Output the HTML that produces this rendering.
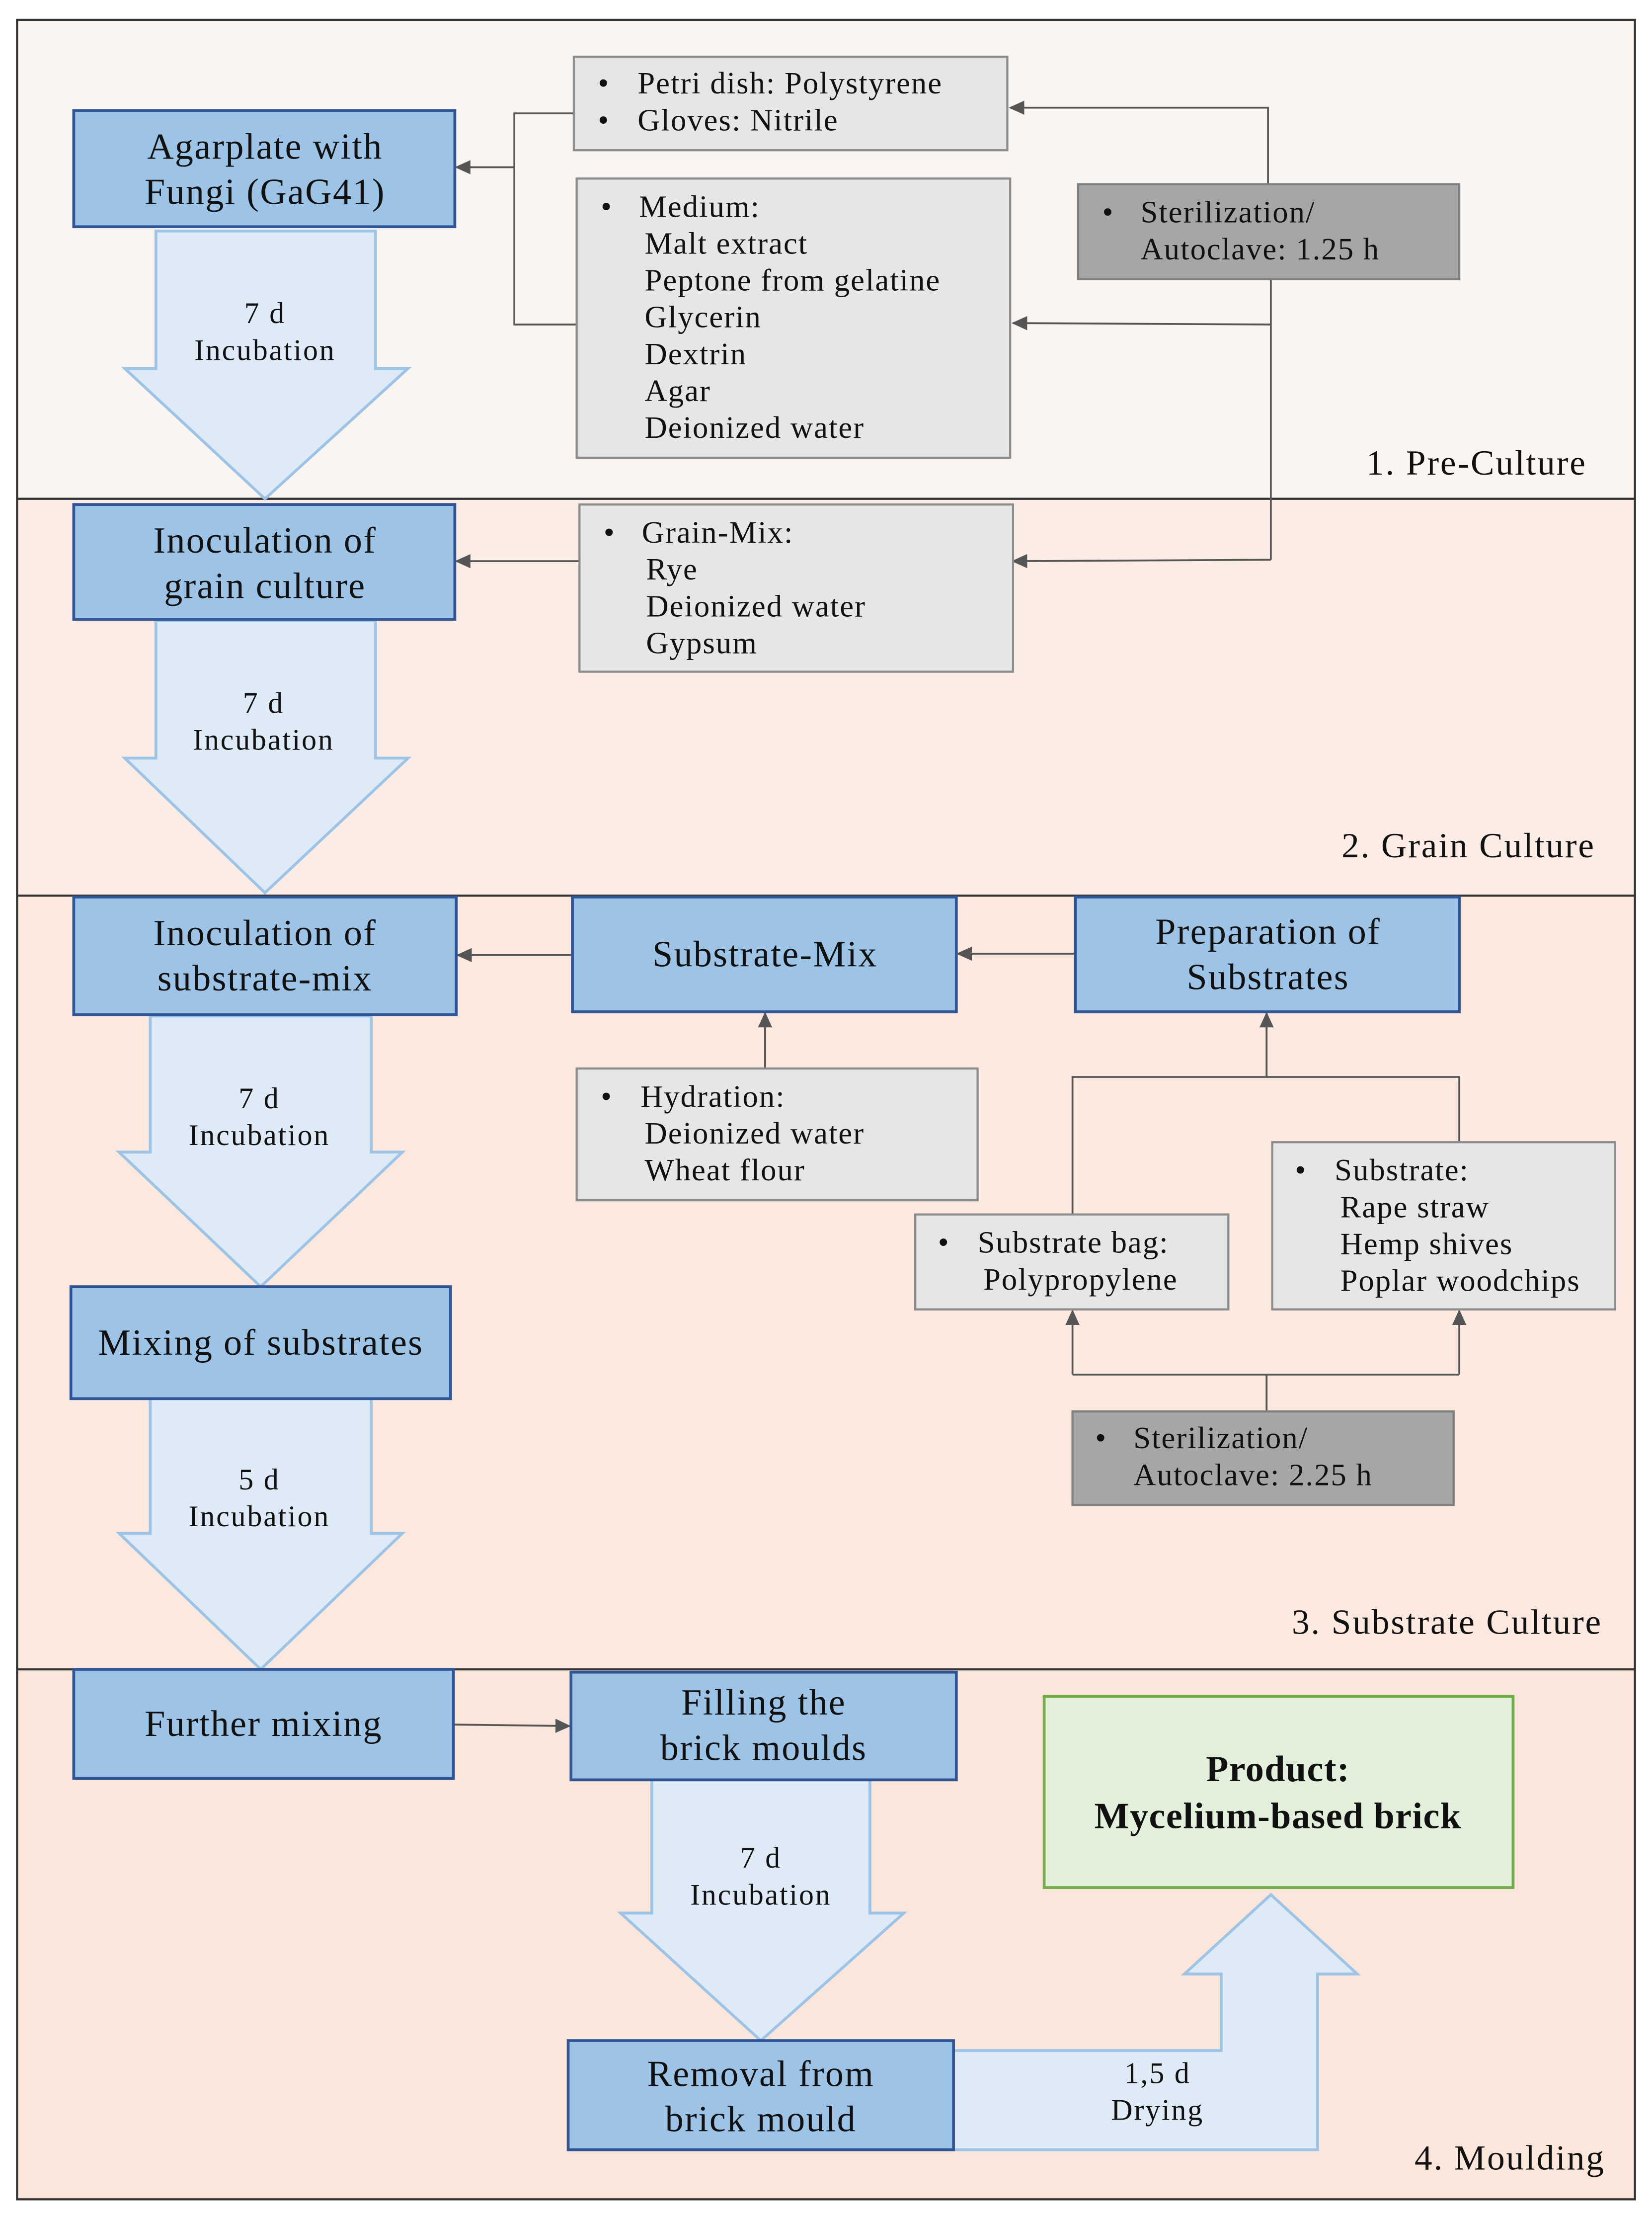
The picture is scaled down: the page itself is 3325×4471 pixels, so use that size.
<!DOCTYPE html>
<html><head><meta charset="utf-8">
<style>
html,body{margin:0;padding:0;background:#fff;}
svg{display:block;}
text{font-family:"Liberation Serif",serif;fill:#111;}
</style></head>
<body>
<svg width="3325" height="4471" viewBox="0 0 1166 1568" xmlns="http://www.w3.org/2000/svg">
<defs>
<marker id="a" markerWidth="11" markerHeight="10" refX="10" refY="5" orient="auto" markerUnits="userSpaceOnUse">
<path d="M0,0 L11,5 L0,10 z" fill="#555"/></marker>
</defs>
<rect x="0" y="0" width="1166" height="1568" fill="#fff"/>
<rect x="12" y="14" width="1142" height="338" fill="#fbf5f2"/>
<rect x="12" y="352" width="1142" height="280" fill="#fbede6"/>
<rect x="12" y="632" width="1142" height="546" fill="#fbe9df"/>
<rect x="12" y="1178" width="1142" height="374" fill="#fbe6dc"/>
<g stroke="#333" stroke-width="1.5" fill="none">
<rect x="12" y="14" width="1142" height="1538"/>
<line x1="12" y1="352" x2="1154" y2="352"/>
<line x1="12" y1="632" x2="1154" y2="632"/>
<line x1="12" y1="1178" x2="1154" y2="1178"/>
</g>
<g font-size="25" letter-spacing="1">
<text x="1120" y="335" text-anchor="end">1. Pre-Culture</text>
<text x="1126" y="605" text-anchor="end">2. Grain Culture</text>
<text x="1131" y="1153" text-anchor="end">3. Substrate Culture</text>
<text x="1133" y="1531" text-anchor="end">4. Moulding</text>
</g>
<g fill="#deebf7" stroke="#9dc3e6" stroke-width="2">
<polygon points="110,163 265,163 265,260 288,260 187,352 88,260 110,260"/>
<polygon points="110,438 265,438 265,535 288,535 187,630 88,535 110,535"/>
<polygon points="106,717 262,717 262,813 284,813 184,908 84,813 106,813"/>
<polygon points="106,987 262,987 262,1082 284,1082 184,1178 84,1082 106,1082"/>
<polygon points="460,1256 614,1256 614,1350 638,1350 537,1440 438,1350 460,1350"/>
<polygon points="673,1447 862,1447 862,1393 836,1393 897,1337 958,1393 930,1393 930,1517 673,1517"/>
</g>
<g font-size="21" text-anchor="middle" letter-spacing="1">
<text x="187" y="228">7 d</text><text x="187" y="254">Incubation</text>
<text x="186" y="503">7 d</text><text x="186" y="529">Incubation</text>
<text x="183" y="782">7 d</text><text x="183" y="808">Incubation</text>
<text x="183" y="1051">5 d</text><text x="183" y="1077">Incubation</text>
<text x="537" y="1318">7 d</text><text x="537" y="1344">Incubation</text>
<text x="817" y="1470">1,5 d</text><text x="817" y="1496">Drying</text>
</g>
<g stroke="#555" stroke-width="1.3" fill="none">
<polyline points="895,130 895,76 713,76" marker-end="url(#a)"/>
<line x1="897" y1="197" x2="897" y2="395"/>
<polyline points="897,229 715,228" marker-end="url(#a)"/>
<polyline points="897,395 715,396" marker-end="url(#a)"/>
<polyline points="405,80 363,80 363,229 407,229"/>
<line x1="363" y1="118" x2="322" y2="118" marker-end="url(#a)"/>
<line x1="409" y1="396" x2="322" y2="396" marker-end="url(#a)"/>
<line x1="404" y1="674" x2="323" y2="674" marker-end="url(#a)"/>
<line x1="759" y1="673" x2="676" y2="673" marker-end="url(#a)"/>
<line x1="540" y1="754" x2="540" y2="715" marker-end="url(#a)"/>
<polyline points="757,857 757,760 1030,760 1030,806"/>
<line x1="894" y1="760" x2="894" y2="715" marker-end="url(#a)"/>
<line x1="894" y1="996" x2="894" y2="970"/>
<polyline points="757,970 1030,970"/>
<line x1="757" y1="970" x2="757" y2="925" marker-end="url(#a)"/>
<line x1="1030" y1="970" x2="1030" y2="925" marker-end="url(#a)"/>
<line x1="321" y1="1217" x2="402" y2="1218" marker-end="url(#a)"/>
</g>
<g fill="#9dc3e6" stroke="#2f5597" stroke-width="2">
<rect x="52" y="78" width="269" height="82"/>
<rect x="52" y="356" width="269" height="81"/>
<rect x="52" y="633" width="270" height="83"/>
<rect x="404" y="633" width="271" height="81"/>
<rect x="759" y="633" width="271" height="81"/>
<rect x="50" y="908" width="268" height="79"/>
<rect x="52" y="1178" width="268" height="77"/>
<rect x="403" y="1180" width="272" height="76"/>
<rect x="401" y="1440" width="272" height="77"/>
</g>
<rect x="737" y="1197" width="331" height="135" fill="#e2efda" stroke="#70ad47" stroke-width="2"/>
<g font-size="26" text-anchor="middle" letter-spacing="0.8">
<text x="187" y="112">Agarplate with</text><text x="187" y="144">Fungi (GaG41)</text>
<text x="187" y="390">Inoculation of</text><text x="187" y="422">grain culture</text>
<text x="187" y="667">Inoculation of</text><text x="187" y="699">substrate-mix</text>
<text x="540" y="682">Substrate-Mix</text>
<text x="895" y="666">Preparation of</text><text x="895" y="698">Substrates</text>
<text x="184" y="956">Mixing of substrates</text>
<text x="186" y="1225">Further mixing</text>
<text x="539" y="1210">Filling the</text><text x="539" y="1242">brick moulds</text>
<text x="537" y="1472">Removal from</text><text x="537" y="1504">brick mould</text>
<text x="902" y="1257" font-weight="bold" letter-spacing="0.5">Product:</text>
<text x="902" y="1290" font-weight="bold" letter-spacing="0.5">Mycelium-based brick</text>
</g>
<g fill="#e6e6e6" stroke="#8c8c8c" stroke-width="1.5">
<rect x="405" y="40" width="306" height="66"/>
<rect x="407" y="126" width="306" height="197"/>
<rect x="409" y="356" width="306" height="118"/>
<rect x="407" y="754" width="283" height="93"/>
<rect x="898" y="806" width="242" height="118"/>
<rect x="646" y="857" width="221" height="67"/>
</g>
<g fill="#a6a6a6" stroke="#7f7f7f" stroke-width="1.5">
<rect x="761" y="130" width="269" height="67"/>
<rect x="757" y="996" width="269" height="66"/>
</g>
<g font-size="22" letter-spacing="0.7">
<text x="422" y="66">•</text><text x="450" y="66">Petri dish: Polystyrene</text>
<text x="422" y="92">•</text><text x="450" y="92">Gloves: Nitrile</text>
<text x="424" y="153">•</text><text x="451" y="153">Medium:</text>
<text x="455" y="179">Malt extract</text>
<text x="455" y="205">Peptone from gelatine</text>
<text x="455" y="231">Glycerin</text>
<text x="455" y="257">Dextrin</text>
<text x="455" y="283">Agar</text>
<text x="455" y="309">Deionized water</text>
<text x="778" y="157">•</text><text x="805" y="157">Sterilization/</text>
<text x="805" y="183">Autoclave: 1.25 h</text>
<text x="426" y="383">•</text><text x="453" y="383">Grain-Mix:</text>
<text x="456" y="409">Rye</text>
<text x="456" y="435">Deionized water</text>
<text x="456" y="461">Gypsum</text>
<text x="424" y="781">•</text><text x="452" y="781">Hydration:</text>
<text x="455" y="807">Deionized water</text>
<text x="455" y="833">Wheat flour</text>
<text x="914" y="833">•</text><text x="942" y="833">Substrate:</text>
<text x="946" y="859">Rape straw</text>
<text x="946" y="885">Hemp shives</text>
<text x="946" y="911">Poplar woodchips</text>
<text x="662" y="884">•</text><text x="690" y="884">Substrate bag:</text>
<text x="694" y="910">Polypropylene</text>
<text x="773" y="1022">•</text><text x="800" y="1022">Sterilization/</text>
<text x="800" y="1048">Autoclave: 2.25 h</text>
</g>
</svg>
</body></html>
